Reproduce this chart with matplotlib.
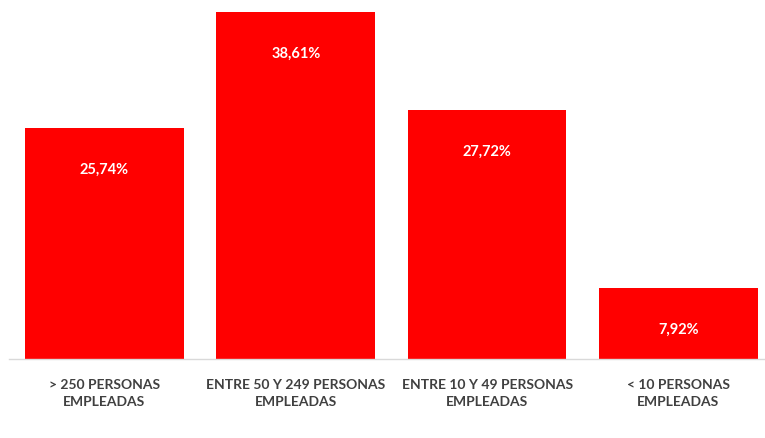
import matplotlib
matplotlib.use("Agg")
import matplotlib.pyplot as plt

categories = ["> 250 PERSONAS\nEMPLEADAS", "ENTRE 50 Y 249 PERSONAS\nEMPLEADAS",
              "ENTRE 10 Y 49 PERSONAS\nEMPLEADAS", "< 10 PERSONAS\nEMPLEADAS"]
values = [25.74, 38.61, 27.72, 7.92]
labels = ["25,74%", "38,61%", "27,72%", "7,92%"]

plt.rcParams['font.family'] = ['Lato', 'DejaVu Sans']

W, H = 765, 439
fig = plt.figure(figsize=(W / 100, H / 100), dpi=100)
left, right = 8.85, 774.0
top, bottom = 13, 360
ax = fig.add_axes([left / W, (H - bottom) / H, (right - left) / W, (bottom - top) / H])

x = list(range(len(values)))
ax.bar(x, values, width=0.83, color="#ff0000")
ax.set_xlim(-0.5, 3.5)
ax.set_ylim(0, 38.61)

for xi, v, lab in zip(x, values, labels):
    ax.annotate(lab, (xi, v), xytext=(0, -29.5), textcoords="offset points",
                ha="center", va="center", color="white", fontsize=10.5, fontweight="bold")

ax.set_xticks(x)
ax.set_xticklabels(categories, fontsize=10, fontweight="bold", color="#404040", linespacing=1.45)
ax.tick_params(axis="x", length=0, pad=14)
ax.set_yticks([])
for s in ["top", "right", "left"]:
    ax.spines[s].set_visible(False)
ax.spines["bottom"].set_color("#d9d9d9")
ax.spines["bottom"].set_linewidth(1.0)

fig.savefig("out.png", dpi=100)
